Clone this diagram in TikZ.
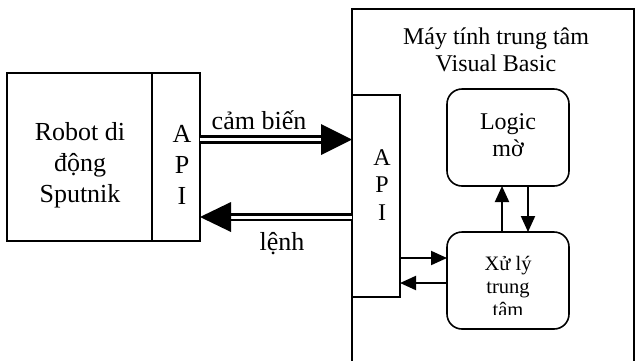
\documentclass[tikz,border=0pt]{standalone}
\usepackage{fontspec}
\setmainfont{Liberation Serif}
\usetikzlibrary{arrows.meta}
\begin{document}
\begin{tikzpicture}[x=1pt,y=-1pt,
  box/.style={draw,line width=1.6pt,inner sep=0pt,outer sep=0pt},
  rbox/.style={box,rounded corners=15pt},
  txtA/.style={font=\fontsize{26}{31}\selectfont,align=center,inner sep=0pt},
  txtB/.style={font=\fontsize{24}{27.5}\selectfont,align=center,inner sep=0pt},
  txtC/.style={font=\fontsize{20.5}{23}\selectfont,align=center,inner sep=0pt},
  dbl/.style={double,double distance=3pt,line width=2.6pt},
  arr/.style={line width=2pt,-{Triangle[length=16pt,width=14pt]}},
  bighead/.style={fill=black}
]
\useasboundingbox (0,0) rectangle (636,360);
% boxes
\node[box,minimum width=145pt,minimum height=168pt] (robot) at (79.5,157) {};
\node[box,minimum width=48pt,minimum height=168pt] (api1) at (176,157) {};
\node[box,minimum width=282pt,minimum height=361pt] (big) at (493,189.5) {};
\node[box,fill=white,minimum width=48pt,minimum height=202pt] (api2) at (376,196) {};
\node[rbox,minimum width=122pt,minimum height=97pt] (logic) at (508,137.5) {};
\node[rbox,minimum width=122pt,minimum height=97pt] (xuly) at (508,280.5) {};
% texts
\node[txtA] (robottxt) at (80,165) {Robot di\\động\\Sputnik};
\node[txtA] (api1txt) at (182,165) {A\\P\\I};
\node[txtB] (bigtxt) at (496,50) {Máy tính trung tâm\\Visual Basic};
\node[txtB] (api2txt) at (382,185) {A\\P\\I};
\node[txtB] (logictxt) at (508,135) {Logic\\mờ};
\begin{scope}
  \clip (449,234) rectangle (567,314);
  \node[txtC] (xulytxt) at (508,286) {Xử lý\\trung\\tâm};
\end{scope}
\node[txtA,anchor=base] (cambien) at (259,129) {cảm biến};
\node[txtA,anchor=base] (lenh) at (282,250) {lệnh};
% double arrows
\coordinate (c1) at (big.west |- 0,139.5);
\coordinate (c2) at (api1.east |- 0,217);
\draw[dbl] (api1.east |- c1) -- ([xshift=-29pt]c1);
\fill[bighead] (c1) -- ++(-31,-15.5) -- ++(0,31) -- cycle;
\draw[dbl] (big.west |- c2) -- ([xshift=29pt]c2);
\fill[bighead] (c2) -- ++(31,-15) -- ++(0,30) -- cycle;
% internal arrows
\draw[arr] ([xshift=-6pt]xuly.north) -- ([xshift=-6pt]logic.south);
\draw[arr] ([xshift=20pt]logic.south) -- ([xshift=20pt]xuly.north);
\draw[arr] (api2.east |- 0,258) -- (xuly.west |- 0,258);
\draw[arr] (xuly.west |- 0,283) -- (api2.east |- 0,283);
\end{tikzpicture}
\end{document}
